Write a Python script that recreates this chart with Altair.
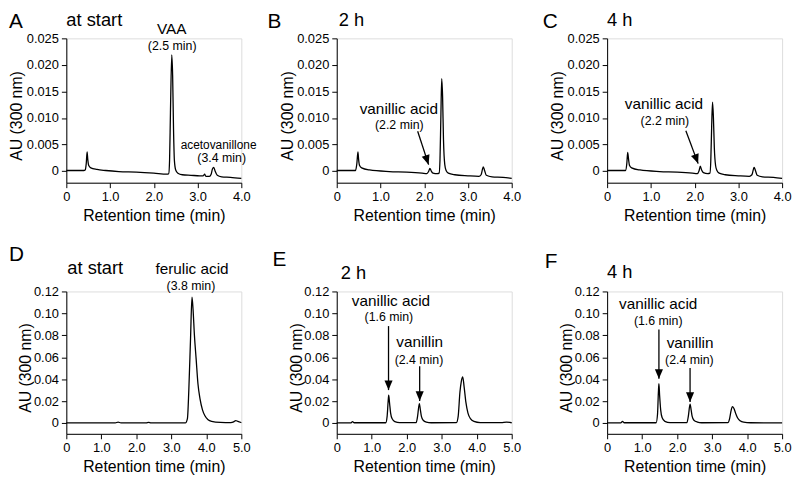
import altair as alt
import pandas as pd

FONT = "Liberation Sans"

# ---------------- chromatogram traces (retention time, min / absorbance, AU) ----------------
A_t = [0.00, 0.40, 0.43, 0.455, 0.475, 0.49, 0.51, 0.56, 0.70, 0.90, 1.20, 1.60, 2.00, 2.30, 2.34,
       2.36, 2.38, 2.41, 2.43, 2.45, 2.47, 2.50, 2.55, 2.65, 2.85, 3.05, 3.13, 3.16, 3.19, 3.27,
       3.31, 3.34, 3.37, 3.40, 3.45, 3.55, 3.75, 4.00]
A_au = [0.0001, 0.0001, 0.0002, 0.0014, 0.0036, 0.0022, 0.0011, 0.0006, 0.0003, 0.0001, -0.0001,
        -0.0002, -0.0004, -0.0006, -0.0005, 0.0020, 0.0110, 0.0219, 0.0180, 0.0080, 0.0020, 0.0002,
        -0.0004, -0.0007, -0.0008, -0.0009, -0.0009, -0.0006, -0.0010, -0.0010, -0.0006, 0.0004,
        0.0007, 0.0000, -0.0008, -0.0011, -0.0012, -0.0014]

B_t = [0.00, 0.43, 0.46, 0.485, 0.50, 0.52, 0.57, 0.75, 1.20, 1.60, 1.95, 2.06, 2.10, 2.13, 2.16,
       2.20, 2.30, 2.34, 2.36, 2.38, 2.40, 2.42, 2.44, 2.47, 2.50, 2.55, 2.70, 3.00, 3.25, 3.30,
       3.35, 3.38, 3.42, 3.55, 3.80, 4.00]
B_au = [0.0001, 0.0001, 0.0014, 0.0036, 0.0022, 0.0011, 0.0006, 0.0002, -0.0001, -0.0002, -0.0004,
        -0.0005, -0.0001, 0.0005, 0.0000, -0.0004, -0.0005, -0.0004, 0.0020, 0.0100, 0.0174, 0.0140,
        0.0060, 0.0012, 0.0001, -0.0004, -0.0007, -0.0009, -0.0010, -0.0007, 0.0008, 0.0001,
        -0.0008, -0.0011, -0.0012, -0.0014]

C_t = [0.00, 0.42, 0.45, 0.47, 0.49, 0.51, 0.56, 0.75, 1.20, 1.60, 1.95, 2.06, 2.10, 2.13, 2.16,
       2.20, 2.30, 2.35, 2.37, 2.39, 2.41, 2.43, 2.45, 2.48, 2.51, 2.56, 2.70, 3.00, 3.25, 3.31,
       3.36, 3.39, 3.43, 3.55, 3.80, 4.00]
C_au = [0.0001, 0.0001, 0.0014, 0.0035, 0.0022, 0.0011, 0.0006, 0.0002, -0.0001, -0.0002, -0.0004,
        -0.0005, 0.0000, 0.0009, 0.0002, -0.0003, -0.0005, -0.0004, 0.0020, 0.0085, 0.0130, 0.0100,
        0.0045, 0.0010, 0.0001, -0.0004, -0.0007, -0.0009, -0.0010, -0.0007, 0.0007, 0.0001,
        -0.0008, -0.0011, -0.0012, -0.0014]

D_t = [0.00, 1.40, 1.48, 1.56, 2.28, 2.35, 2.42, 3.40, 3.46, 3.50, 3.55, 3.59, 3.62, 3.66, 3.71,
       3.76, 3.82, 3.89, 3.96, 4.05, 4.15, 4.40, 4.70, 4.78, 4.84, 4.90, 5.00]
D_au = [0.0000, 0.0000, 0.0008, 0.0000, 0.0000, 0.0006, 0.0000, 0.0000, 0.0040, 0.0300, 0.0780,
        0.1149, 0.1040, 0.0800, 0.0580, 0.0360, 0.0220, 0.0120, 0.0066, 0.0030, 0.0015, 0.0005,
        0.0003, 0.0010, 0.0022, 0.0015, 0.0003]

E_t = [0.00, 0.40, 0.45, 0.50, 1.40, 1.44, 1.47, 1.485, 1.51, 1.54, 1.58, 1.66, 1.80, 2.27, 2.31,
       2.36, 2.39, 2.42, 2.47, 2.56, 2.70, 3.42, 3.47, 3.52, 3.56, 3.60, 3.64, 3.69, 3.75, 3.82,
       3.92, 4.10, 4.70, 4.85, 5.00]
E_au = [0.0000, 0.0000, 0.0012, 0.0002, 0.0002, 0.0060, 0.0200, 0.0253, 0.0180, 0.0090, 0.0040,
        0.0013, 0.0003, 0.0003, 0.0060, 0.0177, 0.0120, 0.0060, 0.0025, 0.0008, 0.0002, 0.0003,
        0.0060, 0.0280, 0.0380, 0.0421, 0.0330, 0.0190, 0.0090, 0.0040, 0.0015, 0.0004, 0.0003,
        0.0008, 0.0002]

F_t = [0.00, 0.39, 0.44, 0.49, 1.40, 1.44, 1.465, 1.48, 1.50, 1.53, 1.57, 1.65, 1.80, 2.28, 2.32,
       2.37, 2.40, 2.43, 2.48, 2.58, 2.70, 3.45, 3.50, 3.54, 3.58, 3.62, 3.67, 3.73, 3.80, 3.90,
       4.10, 5.00]
F_au = [0.0000, 0.0000, 0.0015, 0.0002, 0.0002, 0.0080, 0.0280, 0.0358, 0.0250, 0.0120, 0.0050,
        0.0015, 0.0003, 0.0003, 0.0060, 0.0171, 0.0120, 0.0060, 0.0025, 0.0008, 0.0002, 0.0003,
        0.0040, 0.0110, 0.0150, 0.0135, 0.0090, 0.0045, 0.0020, 0.0007, 0.0002, 0.0001]

# ---------------- axis ticks ----------------
TOP_XTICKS = [0, 1, 2, 3, 4]
BOT_XTICKS = [0, 1, 2, 3, 4, 5]
TOP_YTICKS = [0, 0.005, 0.010, 0.015, 0.020, 0.025]
BOT_YTICKS = [0, 0.02, 0.04, 0.06, 0.08, 0.10, 0.12]

# ---------------- annotations: (text, time, AU, font size) ----------------
A_labels = [("VAA", 2.41, 0.0258, 15.5), ("(2.5 min)", 2.42, 0.0229, 12.5),
            ("acetovanillone", 3.48, 0.0041, 12), ("(3.4 min)", 3.55, 0.0017, 12.5)]
B_labels = [("vanillic acid", 1.42, 0.0107, 15.5), ("(2.2 min)", 1.43, 0.0080, 12.5)]
C_labels = [("vanillic acid", 1.30, 0.0116, 15.5), ("(2.2 min)", 1.32, 0.0086, 12.5)]
D_labels = [("ferulic acid", 3.59, 0.136, 15.5), ("(3.8 min)", 3.56, 0.1215, 12.5)]
E_labels = [("vanillic acid", 1.55, 0.1065, 15.5), ("(1.6 min)", 1.49, 0.0930, 12.5),
            ("vanillin", 2.37, 0.0690, 15.5), ("(2.4 min)", 2.35, 0.0537, 12.5)]
F_labels = [("vanillic acid", 1.46, 0.1044, 15.5), ("(1.6 min)", 1.46, 0.0893, 12.5),
            ("vanillin", 2.37, 0.0683, 15.5), ("(2.4 min)", 2.35, 0.0541, 12.5)]

# arrows: (start time, start AU, tip time, tip AU)
B_arrows = [(1.85, 0.0075, 2.10, 0.0012)]
C_arrows = [(1.80, 0.0076, 2.08, 0.0014)]
E_arrows = [(1.48, 0.0884, 1.48, 0.0300), (2.37, 0.0517, 2.37, 0.0201)]
F_arrows = [(1.48, 0.0854, 1.48, 0.0403), (2.37, 0.0502, 2.37, 0.0192)]

HEAD = "M -0.42 -1 L 0.42 -1 L 0 0 Z"


def panel(t, au, xticks, ydom, yticks, yfmt, h, letter, lpos, title, tpos,
          labels, arrows=None, angle=0, title_x=-42, title_y=78):
    xs = alt.Scale(domain=[0, xticks[-1]], nice=False, zero=False)
    ys = alt.Scale(domain=ydom, nice=False, zero=False)
    common = dict(grid=False, domainColor="black", tickColor="black", labelColor="black",
                  titleColor="black", labelFont=FONT, titleFont=FONT, labelFontSize=13,
                  titleFontSize=16, titleFontWeight="normal", tickSize=5, domainWidth=1,
                  tickWidth=1, labelFlush=False, labelOverlap=False)
    xax = alt.Axis(values=xticks, title="Retention time (min)", labelPadding=3, titlePadding=4,
                   labelExpr="datum.value == 0 ? '0' : format(datum.value, '.1f')", **common)
    yax = alt.Axis(values=yticks, title="AU (300 nm)", labelPadding=3, titleX=title_x,
                   titleY=title_y,
                   labelExpr=f"datum.value == 0 ? '0' : format(datum.value, '{yfmt}')", **common)

    def X(f):
        return alt.X(f, type="quantitative", scale=xs, axis=xax)

    def Y(f):
        return alt.Y(f, type="quantitative", scale=ys, axis=yax)

    trace = alt.Chart(pd.DataFrame({"t": t, "au": au})).mark_line(
        color="black", strokeWidth=1.3, interpolate="monotone").encode(x=X("t"), y=Y("au"))

    ldf = pd.DataFrame(labels, columns=["s", "t", "au", "fs"])
    texts = alt.Chart(ldf).mark_text(color="black", font=FONT, align="center",
                                     baseline="alphabetic").encode(
        x=X("t"), y=Y("au"), text="s:N", size=alt.Size("fs:Q", scale=None))

    let = alt.Chart(pd.DataFrame({"s": [letter]})).mark_text(
        color="black", font=FONT, fontSize=21, align="left", baseline="alphabetic").encode(
        x=alt.value(lpos[0]), y=alt.value(lpos[1]), text="s:N")
    tit = alt.Chart(pd.DataFrame({"s": [title]})).mark_text(
        color="black", font=FONT, fontSize=18.5, align="left", baseline="alphabetic").encode(
        x=alt.value(tpos[0]), y=alt.value(tpos[1]), text="s:N")

    layers = [trace, texts, let, tit]
    if arrows:
        adf = pd.DataFrame(arrows, columns=["t", "au", "t2", "au2"])
        shaft = alt.Chart(adf).mark_rule(color="black", strokeWidth=1.3).encode(
            x=X("t"), y=Y("au"), x2="t2:Q", y2="au2:Q")
        head = alt.Chart(adf).mark_point(shape=HEAD, filled=True, color="black", opacity=1,
                                         size=380, angle=angle, strokeWidth=0).encode(
            x=X("t2"), y=Y("au2"))
        layers += [shaft, head]
    return alt.layer(*layers).properties(width=177, height=h)


top_dom = [-0.0022, 0.025]
bot_dom = [-0.0099, 0.12]

pA = panel(A_t, A_au, TOP_XTICKS, top_dom, TOP_YTICKS, ".3f", 146, "A", (-58, -10),
           "at start", (0, -12), A_labels)
pB = panel(B_t, B_au, TOP_XTICKS, top_dom, TOP_YTICKS, ".3f", 146, "B", (-70, -10),
           "2 h", (2, -12), B_labels, B_arrows, angle=342)
pC = panel(C_t, C_au, TOP_XTICKS, top_dom, TOP_YTICKS, ".3f", 146, "C", (-65, -10),
           "4 h", (0, -12), C_labels, C_arrows, angle=340)
pD = panel(D_t, D_au, BOT_XTICKS, bot_dom, BOT_YTICKS, ".2f", 144, "D", (-58, -31),
           "at start", (1, -18), D_labels, title_x=-33, title_y=77)
pE = panel(E_t, E_au, BOT_XTICKS, bot_dom, BOT_YTICKS, ".2f", 144, "E", (-65, -26),
           "2 h", (4, -13), E_labels, E_arrows, angle=0, title_x=-33, title_y=77)
pF = panel(F_t, F_au, BOT_XTICKS, bot_dom, BOT_YTICKS, ".2f", 144, "F", (-63, -24),
           "4 h", (0, -14), F_labels, F_arrows, angle=0, title_x=-33, title_y=77)

chart = alt.concat(pA, pB, pC, pD, pE, pF, columns=3,
                   spacing={"row": 110, "column": 96.5}, bounds="flush").properties(
    padding={"left": 0, "top": 0, "right": 0, "bottom": 2}
).configure_view(stroke=None).configure(font=FONT, background="white")

chart.save("out.html", embed_options={"renderer": "svg", "actions": False})
